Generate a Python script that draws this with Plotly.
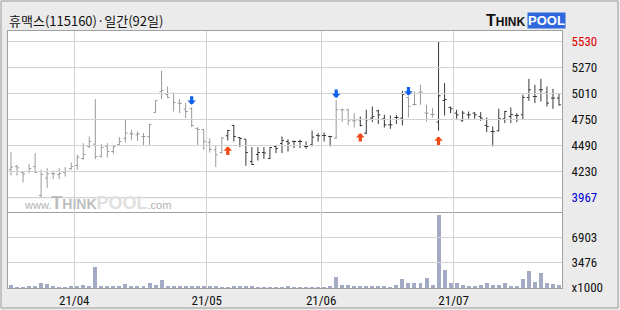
import plotly.graph_objects as go

# ---------------- data ----------------
title_text = "휴맥스(115160)·일간(92일)"

opens = [4250, 4280, 4220, 4230, 4280, 3990, 4164, 4210, 4200, 4220,
         4260, 4290, 4360, 4480, 4504, 4380, 4480, 4430, 4500, 4563,
         4607, 4597, 4580, 4580, 4820, 5030, 5000, 5014, 4914, 4854,
         4860, 4660, 4650, 4520, 4447, 4420, 4587, 4690, 4570, 4554,
         4330, 4400, 4420, 4360, 4480, 4510, 4530, 4530, 4530, 4480,
         4497, 4590, 4590, 4580, 4564, 4847, 4847, 4737, 4747, 4614,
         4764, 4837, 4757, 4697, 4770, 4764, 4970, 4900, 5024, 4814,
         4800, 4724, 4940, 4870, 4814, 4737, 4797, 4814, 4780, 4690,
         4630, 4637, 4757, 4780, 4790, 4797, 4970, 4980, 5047, 5014,
         4964, 4964]
highs = [4424, 4297, 4230, 4304, 4414, 4247, 4264, 4240, 4264, 4274,
         4320, 4397, 4514, 4580, 4954, 4504, 4514, 4497, 4574, 4747,
         4647, 4630, 4614, 4707, 4940, 5237, 5080, 5014, 4954, 4914,
         4870, 4674, 4654, 4560, 4487, 4574, 4647, 4697, 4574, 4554,
         4474, 4474, 4474, 4474, 4497, 4580, 4554, 4540, 4547, 4530,
         4640, 4614, 4620, 4587, 4947, 4857, 4857, 4814, 4780, 4847,
         4880, 4847, 4797, 4790, 4797, 5037, 4980, 5030, 5097, 4897,
         4864, 5530, 5114, 4880, 4847, 4837, 4830, 4824, 4824, 4770,
         4680, 4857, 4837, 4870, 4814, 4997, 5157, 5097, 5157, 5080,
         5057, 5014]
lows = [4190, 4190, 4120, 4214, 4214, 3967, 4064, 4154, 4154, 4180,
        4247, 4247, 4347, 4464, 4354, 4370, 4370, 4407, 4497, 4520,
        4547, 4537, 4490, 4490, 4820, 4954, 4964, 4830, 4814, 4764,
        4674, 4487, 4447, 4420, 4274, 4407, 4540, 4530, 4474, 4287,
        4297, 4340, 4357, 4354, 4414, 4414, 4430, 4464, 4464, 4457,
        4480, 4530, 4530, 4480, 4557, 4724, 4694, 4670, 4680, 4604,
        4724, 4704, 4670, 4657, 4704, 4690, 4770, 4890, 4897, 4730,
        4770, 4637, 4790, 4814, 4757, 4730, 4757, 4757, 4737, 4624,
        4480, 4630, 4714, 4714, 4724, 4747, 4937, 4914, 4930, 4880,
        4857, 4890]
closes = [4274, 4267, 4205, 4260, 4220, 4200, 4207, 4207, 4210, 4230,
          4280, 4374, 4400, 4530, 4380, 4470, 4430, 4480, 4530, 4614,
          4607, 4607, 4580, 4700, 4940, 5040, 4970, 4920, 4910, 4830,
          4690, 4650, 4530, 4450, 4397, 4564, 4640, 4580, 4560, 4420,
          4300, 4420, 4415, 4470, 4460, 4540, 4515, 4530, 4530, 4480,
          4574, 4587, 4590, 4580, 4847, 4847, 4737, 4737, 4690, 4747,
          4780, 4797, 4697, 4697, 4770, 5004, 4880, 4900, 5024, 4814,
          4800, 4987, 4950, 4857, 4797, 4814, 4797, 4797, 4764, 4680,
          4630, 4757, 4830, 4800, 4790, 4970, 5047, 4980, 5047, 4914,
          4964, 4897]
volumes = [370, 90, 90, 320, 300, 640, 500, 140, 90, 90,
           180, 270, 370, 180, 2830, 230, 230, 230, 230, 500,
           320, 270, 270, 640, 460, 1050, 230, 230, 230, 230,
           230, 230, 230, 120, 230, 100, 100, 200, 200, 200,
           150, 100, 100, 100, 100, 100, 200, 100, 100, 100,
           100, 100, 100, 230, 1460, 366, 366, 274, 230, 140,
           230, 230, 140, 100, 366, 1190, 686, 686, 686, 1325,
           366, 9960, 2420, 686, 686, 366, 230, 274, 410, 640,
           410, 410, 640, 230, 230, 1190, 2285, 823, 2057, 640,
           550, 366]

# buy / sell signals (bar index, arrow tip price)
sell_idx = [30, 54, 66]
sell_price = [4897, 4964, 4990]
buy_idx = [36, 58, 71]
buy_price = [4480, 4614, 4580]

# first trading day index of each month shown
month_start_idx = [11, 33, 52, 74]
month_labels = ["21/04", "21/05", "21/06", "21/07"]

price_ticks = [5530, 5270, 5010, 4750, 4490, 4230, 3967]
price_range = [3825, 5635]
vol_ticks = [0, 3476, 6903]
vol_tick_labels = ["x1000", "3476", "6903"]
vol_range = [-19.5, 10398.5]

# ---------------- styles ----------------
GRAY_BAR = "#9a9a9a"
DARK_BAR = "#383838"
VOL_COLOR = "#a3abc4"
GRID = "#d2d2d2"
FRAME = "#a0a0a0"
BG = "#ebebeb"
LABEL_FONT = "Liberation Sans Narrow, Roboto Condensed, Noto Sans CJK KR, sans-serif"

n = len(closes)
xs = list(range(n))
x_lo, x_hi = -0.5, n - 0.5

# colour state: gray after sell signal (and at start), dark after buy signal
ev = dict([(i, "sell") for i in sell_idx] + [(i, "buy") for i in buy_idx])
state = []
cur = "sell"
for i in xs:
    if i in ev:
        cur = ev[i]
    state.append(cur)

fig = go.Figure()

# horizontal grid lines (as line traces under the data) at the tick values
def hgrid(ticks):
    gx, gy = [], []
    for v in ticks:
        gx += [x_lo, x_hi, None]
        gy += [v, v, None]
    return gx, gy

gx, gy = hgrid(price_ticks)
fig.add_trace(go.Scatter(x=gx, y=gy, mode="lines", line=dict(color=GRID, width=1),
                         xaxis="x", yaxis="y", showlegend=False, hoverinfo="skip"))
gx, gy = hgrid(vol_ticks[1:])
fig.add_trace(go.Scatter(x=gx, y=gy, mode="lines", line=dict(color=GRID, width=1),
                         xaxis="x2", yaxis="y2", showlegend=False, hoverinfo="skip"))

for st, col in (("sell", GRAY_BAR), ("buy", DARK_BAR)):
    idx = [i for i in xs if state[i] == st]
    fig.add_trace(go.Ohlc(
        x=idx,
        open=[opens[i] for i in idx], high=[highs[i] for i in idx],
        low=[lows[i] for i in idx], close=[closes[i] for i in idx],
        increasing=dict(line=dict(color=col, width=1)),
        decreasing=dict(line=dict(color=col, width=1)),
        tickwidth=0.34, xaxis="x", yaxis="y", showlegend=False, hoverinfo="skip"))

fig.add_trace(go.Bar(x=xs, y=volumes, marker=dict(color=VOL_COLOR, line=dict(width=0)),
                     width=0.66, xaxis="x2", yaxis="y2", showlegend=False, hoverinfo="skip"))

grid_pos = [i - 0.5 for i in month_start_idx]
vol_frac = 76 / 257

grid_common = dict(gridcolor=GRID, gridwidth=1, zeroline=False,
                   linecolor=FRAME, linewidth=1, automargin=False)

price_text = []
for i, v in enumerate(price_ticks):
    if i == 0:
        price_text.append(f'<span style="color:#e00000">{v}</span>')
    elif i == len(price_ticks) - 1:
        price_text.append(f'<span style="color:#0000d0">{v}</span>')
    else:
        price_text.append(str(v))

tick_font = dict(family=LABEL_FONT, size=13, color="#111111")

fig.update_layout(
    width=620, height=310,
    margin=dict(l=8, r=58, t=31, b=22, autoexpand=False),
    paper_bgcolor=BG, plot_bgcolor="white",
    bargap=0,
    xaxis=dict(domain=[0, 1], anchor="y", range=[x_lo, x_hi], tickvals=grid_pos,
               showticklabels=False, ticks="", showline=True, mirror=True, showgrid=True,
               rangeslider=dict(visible=False), **grid_common),
    xaxis2=dict(domain=[0, 1], anchor="y2", matches="x", range=[x_lo, x_hi],
                tickvals=grid_pos, ticktext=month_labels, ticks="", showline=True,
                mirror=False, showgrid=True, tickfont=tick_font,
                rangeslider=dict(visible=False), **grid_common),
    yaxis=dict(domain=[vol_frac, 1], anchor="x", side="right", range=price_range,
               tickvals=price_ticks, ticktext=price_text,
               ticks="outside", ticklen=6, tickcolor=BG,
               showline=True, mirror=True, showgrid=True,
               tickfont=tick_font, **grid_common),
    yaxis2=dict(domain=[0, vol_frac], anchor="x2", side="right", range=vol_range,
                tickvals=vol_ticks, ticktext=vol_tick_labels,
                ticks="outside", ticklen=6, tickcolor=BG,
                showline=True, mirror=True, showgrid=True,
                tickfont=tick_font, **grid_common),
)

annotations = []
for i, p in zip(sell_idx, sell_price):
    annotations.append(dict(x=i, y=p, xref="x", yref="y", text="", showarrow=True,
                            ax=0, ay=-10, arrowhead=1, arrowsize=0.45, arrowwidth=3.2,
                            arrowcolor="#1060f0", standoff=0))
for i, p in zip(buy_idx, buy_price):
    annotations.append(dict(x=i, y=p, xref="x", yref="y", text="", showarrow=True,
                            ax=0, ay=10, arrowhead=1, arrowsize=0.45, arrowwidth=3.2,
                            arrowcolor="#f04a14", standoff=0))

def px_x(p):
    return (p - 8) / 554

def px_y(p):
    return (288 - p) / 257

annotations.append(dict(x=px_x(7), y=px_y(21), xref="paper", yref="paper",
                        xanchor="left", yanchor="middle", showarrow=False,
                        text=title_text,
                        font=dict(family="Noto Sans CJK KR", size=13, color="#111111")))
# logo
annotations.append(dict(x=px_x(527), y=px_y(20.5), xref="paper", yref="paper",
                        xanchor="right", yanchor="middle", showarrow=False,
                        text='<b>T<span style="font-size:12px">HINK</span></b>',
                        font=dict(family="Liberation Sans", size=16, color="#111111")))
annotations.append(dict(x=px_x(527), y=px_y(20.5), xref="paper", yref="paper",
                        xanchor="left", yanchor="middle", showarrow=False,
                        text="<b>POOL</b>", bgcolor="#2f68dc", borderpad=0,
                        font=dict(family="Liberation Sans", size=13, color="white")))
# watermark
annotations.append(dict(x=px_x(22), y=px_y(203), xref="paper", yref="paper",
                        xanchor="left", yanchor="middle", showarrow=False,
                        text='<span style="color:#b0b0b0;font-size:11px">www.</span>'
                             '<b><span style="color:#bdbdbd">T<span style="font-size:14px">HINK</span></span>'
                             '<span style="color:#e0e0e0">POOL</span></b>'
                             '<span style="color:#b0b0b0;font-size:11px">.com</span>',
                        font=dict(family="Liberation Sans", size=18, color="#c4c4c4")))

# outer frame
shapes = [dict(type="rect", xref="paper", yref="paper",
               x0=px_x(1), x1=px_x(618), y0=px_y(308), y1=px_y(1),
               line=dict(color="#9c9c9c", width=1), fillcolor="rgba(0,0,0,0)", layer="above")]

fig.update_layout(annotations=annotations, shapes=shapes)

fig.write_html("out.html")
